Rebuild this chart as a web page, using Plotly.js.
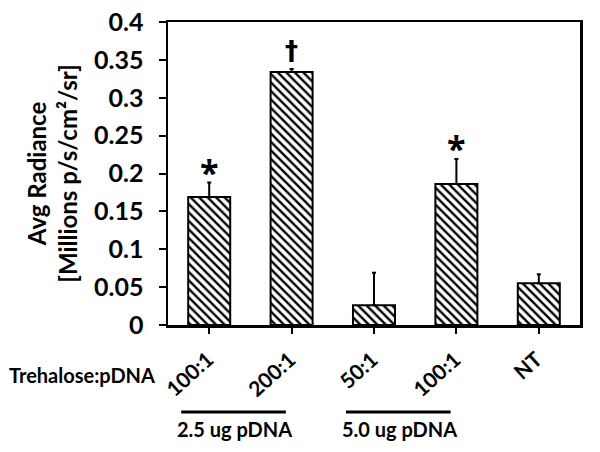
<!DOCTYPE html>
<html>
<head>
<meta charset="utf-8">
<script src="https://cdn.plot.ly/plotly-3.0.1.min.js"></script>
<style>
  body { margin: 0; background: #fff; }
  #chart { width: 600px; height: 452px; }
</style>
</head>
<body>
<div id="chart"></div>
<script>
const ratios = ['100:1', '200:1', '50:1', '100:1', 'NT'];
const radiance = [0.169, 0.334, 0.026, 0.186, 0.055];
const radianceErr = [0.019, 0.004, 0.043, 0.033, 0.012];
const marks = ['*', '†', '', '*', ''];

const groupNames = ['2.5 ug pDNA', '5.0 ug pDNA'];
const groupFrom = [0, 2];
const groupTo = [1, 3];

const font = 'Lato, "Open Sans", sans-serif';
const idx = ratios.map((r, i) => i);

const trace = {
    x: idx,
    y: radiance,
    type: 'bar',
    marker: {
        color: 'white',
        line: { color: 'black', width: 2 },
        pattern: { shape: '\\', fgcolor: 'black', bgcolor: 'white', size: 6, solidity: 0.4 }
    },
    error_y: {
        type: 'data',
        symmetric: false,
        array: radianceErr,
        arrayminus: radianceErr.map(() => 0),
        color: 'black',
        thickness: 2,
        width: 2
    },
    hoverinfo: 'none'
};

let annotations = [];
let shapes = [];

// rotated ratio labels under each tick
ratios.forEach((r, i) => {
    annotations.push({
        x: i, y: -0.06, xref: 'x', yref: 'paper',
        xanchor: 'right', yanchor: 'top', xshift: 11,
        text: r, textangle: -42, showarrow: false,
        font: { family: font, size: 21, weight: 'bold', color: 'black' }
    });
});

// significance marks above the error bars
marks.forEach((m, i) => {
    if (!m) return;
    let star = m === '*';
    annotations.push({
        x: i, y: radiance[i] + radianceErr[i], xref: 'x', yref: 'y',
        text: m, showarrow: false, yanchor: 'middle',
        yshift: star ? 11 : 18,
        font: {
            family: star ? '"Open Sans", sans-serif' : '"DejaVu Sans", sans-serif',
            size: star ? 34 : 26, weight: 'bold', color: 'black'
        }
    });
});

annotations.push({
    x: -0.027, y: -0.165, xref: 'paper', yref: 'paper',
    xanchor: 'right', yanchor: 'middle', showarrow: false,
    text: 'Trehalose:pDNA',
    font: { family: font, size: 20, weight: 'bold', color: 'black' }
});

// dose groups under the ratio labels
groupNames.forEach((g, i) => {
    shapes.push({
        type: 'line', xref: 'x', yref: 'paper',
        x0: groupFrom[i] - 0.34, x1: groupTo[i] - 0.07,
        y0: -0.287, y1: -0.287,
        line: { color: 'black', width: 3 }
    });
    annotations.push({
        x: groupFrom[i] - 0.41, y: -0.343, xref: 'x', yref: 'paper',
        xanchor: 'left', yanchor: 'middle', showarrow: false,
        text: g,
        font: { family: font, size: 20, weight: 'bold', color: 'black' }
    });
});

const layout = {
    width: 600,
    height: 452,
    margin: { l: 168, r: 20, t: 22, b: 127 },
    paper_bgcolor: 'white',
    plot_bgcolor: 'white',
    showlegend: false,
    bargap: 0.49,
    xaxis: {
        range: [-0.5, 4.5],
        tickvals: idx,
        showticklabels: false,
        showline: true, linecolor: 'black', linewidth: 2.5, mirror: true,
        ticks: 'outside', ticklen: 6, tickwidth: 2, tickcolor: 'black',
        showgrid: false, zeroline: false, fixedrange: true
    },
    yaxis: {
        range: [0, 0.4],
        dtick: 0.05,
        showline: true, linecolor: 'black', linewidth: 2.5, mirror: true,
        ticks: 'outside', ticklen: 7, tickwidth: 2, tickcolor: 'black',
        ticklabelstandoff: 10,
        tickfont: { family: font, size: 25, weight: 'bold', color: 'black' },
        title: {
            text: 'Avg Radiance<br>[Millions p/s/cm²/sr]',
            font: { family: font, size: 24, weight: 'bold', color: 'black' },
            standoff: 10
        },
        showgrid: false, zeroline: false, fixedrange: true
    },
    annotations: annotations,
    shapes: shapes
};

Plotly.newPlot('chart', [trace], layout, { displayModeBar: false, staticPlot: true });
</script>
</body>
</html>
